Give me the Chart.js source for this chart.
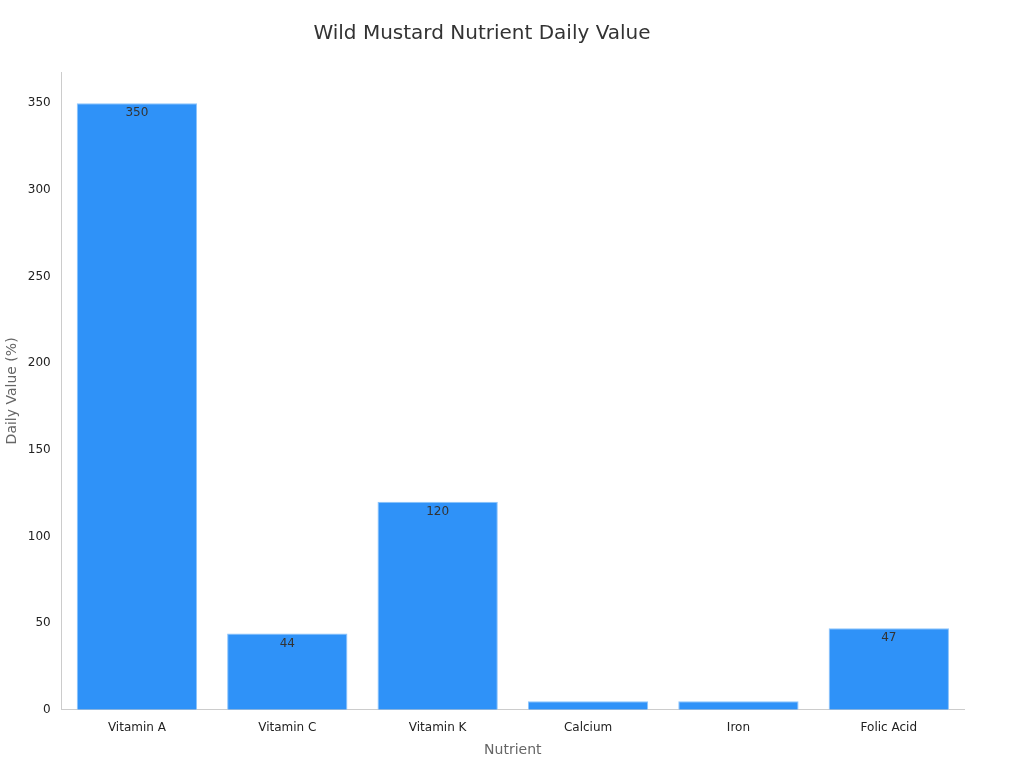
<!DOCTYPE html>
<html><head><meta charset="utf-8">
<script src="https://cdn.jsdelivr.net/npm/chart.js@4"></script>
<style>html,body{margin:0;background:#fff}#w{width:1024px;height:768px}</style>
</head><body><div id="w"><canvas id="c"></canvas></div>
<script>
const categories = ["Vitamin A","Vitamin C","Vitamin K","Calcium","Iron","Folic Acid"];
const values = [350,44,120,5,5,47];
const yTicks = [0,50,100,150,200,250,300,350];
Chart.defaults.font.family = "DejaVu Sans";
const labelPlugin = {id:'lbl',afterDatasetsDraw(chart){
  const ctx=chart.ctx; const meta=chart.getDatasetMeta(0);
  ctx.save(); ctx.font='12px DejaVu Sans'; ctx.fillStyle='#333'; ctx.textAlign='center'; ctx.textBaseline='top';
  meta.data.forEach((b,i)=>{ if(b.base-b.y>15) ctx.fillText(String(values[i]), b.x, b.y+4); });
  ctx.restore();
}};
new Chart(document.getElementById('c'),{
  type:'bar',
  data:{labels:categories,datasets:[{data:values,backgroundColor:'#2f92f8',borderColor:'#8cc4fb',borderWidth:1,barPercentage:0.8,categoryPercentage:1}]},
  options:{responsive:true,maintainAspectRatio:false,animation:false,
    layout:{padding:{left:0,right:60,top:10,bottom:5}},
    plugins:{legend:{display:false},tooltip:{enabled:false},
      title:{display:true,text:'Wild Mustard Nutrient Daily Value',color:'#333',font:{size:20,weight:'normal'},padding:{top:12,bottom:26}}},
    scales:{
      x:{grid:{display:false},border:{color:'#ccc'},ticks:{color:'#222',font:{size:12}},
        title:{display:true,text:'Nutrient',color:'#666',font:{size:14}}},
      y:{min:0,max:368,grid:{display:false,drawTicks:true},border:{color:'#ccc'},
        afterBuildTicks(s){s.ticks=yTicks.map(v=>({value:v}));},
        ticks:{color:'#222',font:{size:12}},
        title:{display:true,text:'Daily Value (%)',color:'#666',font:{size:14}}}
    }
  },
  plugins:[labelPlugin]
});
</script></body></html>
